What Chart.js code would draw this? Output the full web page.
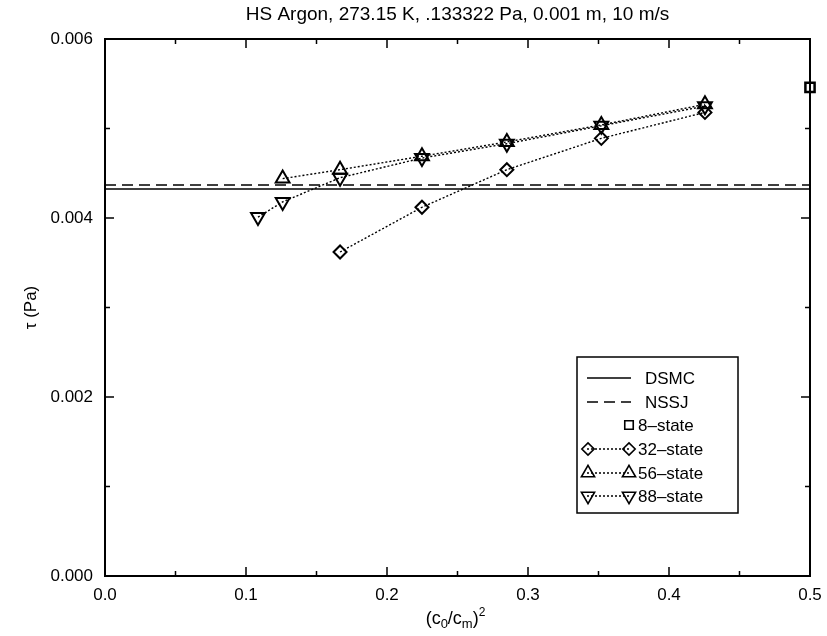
<!DOCTYPE html>
<html>
<head>
<meta charset="utf-8">
<script src="https://cdn.jsdelivr.net/npm/chart.js@4.4.0/dist/chart.umd.min.js"></script>
<style>
  body { margin: 0; background: #fff; }
  canvas { display: block; }
</style>
</head>
<body>
<canvas id="chart" width="827" height="636"></canvas>
<script>
const FONT = '"Liberation Sans", Arial, Helvetica, sans-serif';

// (c0/cm)^2 values and shear stress (Pa)
const x8 = [0.5];
const tau8 = [0.00546];
const x32 = [0.1667, 0.2248, 0.285, 0.352, 0.4255];
const tau32 = [0.00362, 0.00412, 0.00454, 0.00489, 0.00518];
const x56 = [0.126, 0.1667, 0.2248, 0.285, 0.352, 0.4255];
const tau56 = [0.00444, 0.00454, 0.00469, 0.00485, 0.00504, 0.00527];
const x88 = [0.1085, 0.126, 0.1667, 0.2248, 0.285, 0.352, 0.4255];
const tau88 = [0.00401, 0.00418, 0.00445, 0.00467, 0.00483, 0.00503, 0.00525];
const dsmc = 0.004324;
const nssj = 0.004369;

const xTicks = [0, 0.1, 0.2, 0.3, 0.4, 0.5];
const yTicks = [0, 0.002, 0.004, 0.006];

function pts(xs, ys) {
  return xs.map((x, i) => ({ x: x, y: ys[i] }));
}

const clear = 'rgba(0,0,0,0)';

const datasets = [
  {
    label: 'DSMC',
    data: pts([0, 0.5], [dsmc, dsmc]),
    showLine: true, borderColor: '#000', borderWidth: 1.6,
    pointRadius: 0
  },
  {
    label: 'NSSJ',
    data: pts([0, 0.5], [nssj, nssj]),
    showLine: true, borderColor: '#000', borderWidth: 1.6, borderDash: [11, 6],
    pointRadius: 0
  },
  {
    label: '8\u2013state',
    data: pts(x8, tau8),
    showLine: false, pointStyle: 'rect', pointRadius: 6.5,
    pointBorderColor: '#000', pointBackgroundColor: clear, pointBorderWidth: 2.5,
    clip: false
  },
  {
    label: '32\u2013state',
    data: pts(x32, tau32),
    showLine: true, borderColor: '#000', borderWidth: 1.4, borderDash: [2, 2],
    pointStyle: 'rectRot', pointRadius: 6.5,
    pointBorderColor: '#000', pointBackgroundColor: clear, pointBorderWidth: 2
  },
  {
    label: '56\u2013state',
    data: pts(x56, tau56),
    showLine: true, borderColor: '#000', borderWidth: 1.4, borderDash: [2, 2],
    pointStyle: 'triangle', pointRadius: 8,
    pointBorderColor: '#000', pointBackgroundColor: clear, pointBorderWidth: 2
  },
  {
    label: '88\u2013state',
    data: pts(x88, tau88),
    showLine: true, borderColor: '#000', borderWidth: 1.4, borderDash: [2, 2],
    pointStyle: 'triangle', pointRotation: 180, pointRadius: 8,
    pointBorderColor: '#000', pointBackgroundColor: clear, pointBorderWidth: 2
  }
];

// frame, inward ticks, titles and the boxed legend
const decor = {
  id: 'decor',
  afterDraw(chart) {
    const ctx = chart.ctx;
    const a = chart.chartArea;
    const sx = chart.scales.x;
    const sy = chart.scales.y;
    ctx.save();
    ctx.strokeStyle = '#000';
    ctx.lineWidth = 2;
    ctx.strokeRect(a.left, a.top, a.right - a.left, a.bottom - a.top);

    ctx.lineWidth = 1.5;
    ctx.beginPath();
    for (let i = 0; i <= 10; i++) {
      const px = sx.getPixelForValue(i * 0.05);
      const len = i % 2 === 0 ? 9 : 5;
      ctx.moveTo(px, a.bottom); ctx.lineTo(px, a.bottom - len);
      ctx.moveTo(px, a.top); ctx.lineTo(px, a.top + len);
    }
    for (let i = 0; i <= 6; i++) {
      const py = sy.getPixelForValue(i * 0.001);
      const len = i % 2 === 0 ? 9 : 5;
      ctx.moveTo(a.left, py); ctx.lineTo(a.left + len, py);
      ctx.moveTo(a.right, py); ctx.lineTo(a.right - len, py);
    }
    ctx.stroke();

    // title
    ctx.fillStyle = '#000';
    ctx.textAlign = 'center';
    ctx.textBaseline = 'alphabetic';
    ctx.font = '19px ' + FONT;
    ctx.fillText('HS Argon, 273.15 K, .133322 Pa, 0.001 m, 10 m/s', (a.left + a.right) / 2, 20);

    // y title
    ctx.font = '17px ' + FONT;
    ctx.save();
    ctx.translate(36, (a.top + a.bottom) / 2);
    ctx.rotate(-Math.PI / 2);
    ctx.textAlign = 'center';
    ctx.fillText('\u03c4 (Pa)', 0, 0);
    ctx.restore();

    // x title (c0/cm)^2
    const parts = [
      ['(c', 18, 0], ['0', 13, 4], ['/c', 18, 0], ['m', 13, 4], [')', 18, 0], ['2', 12, -8]
    ];
    let w = 0;
    parts.forEach(p => { ctx.font = p[1] + 'px ' + FONT; w += ctx.measureText(p[0]).width; });
    let cx = (a.left + a.right) / 2 - w / 2 - 2;
    ctx.textAlign = 'left';
    parts.forEach(p => {
      ctx.font = p[1] + 'px ' + FONT;
      ctx.fillText(p[0], cx, 624 + p[2]);
      cx += ctx.measureText(p[0]).width;
    });

    // legend
    const bx = 577, by = 357, bw = 161, bh = 156;
    ctx.lineWidth = 1.5;
    ctx.strokeRect(bx, by, bw, bh);
    const rows = [378, 402, 425, 449, 473, 496];
    ctx.font = '17px ' + FONT;
    ctx.textBaseline = 'middle';
    chart.data.datasets.forEach((ds, i) => {
      const y = rows[i];
      ctx.save();
      if (ds.showLine) {
        ctx.strokeStyle = '#000';
        ctx.lineWidth = ds.borderWidth;
        ctx.setLineDash(ds.borderDash || []);
        ctx.beginPath();
        ctx.moveTo(587, y); ctx.lineTo(631, y);
        ctx.stroke();
      }
      ctx.restore();
      let tx = 645;
      if (ds.pointRadius > 0) {
        const opts = {
          pointStyle: ds.pointStyle, radius: ds.pointStyle === 'rect' ? 6 : ds.pointRadius * 0.95,
          rotation: ds.pointRotation || 0, borderWidth: 1.6
        };
        ctx.save();
        ctx.strokeStyle = '#000';
        ctx.fillStyle = clear;
        ctx.lineWidth = 1.6;
        ctx.setLineDash([]);
        if (ds.showLine) Chart.helpers.drawPoint(ctx, opts, 588, y);
        Chart.helpers.drawPoint(ctx, opts, 629, y);
        ctx.restore();
        tx = 638;
      }
      ctx.fillStyle = '#000';
      ctx.textAlign = 'left';
      ctx.fillText(ds.label, tx, y + 1);
    });
    ctx.restore();
  }
};

new Chart(document.getElementById('chart'), {
  type: 'scatter',
  data: { datasets: datasets },
  options: {
    responsive: false,
    animation: false,
    layout: { padding: { left: 0, right: 17, top: 39, bottom: 0 } },
    plugins: {
      legend: { display: false },
      title: { display: false },
      tooltip: { enabled: false }
    },
    scales: {
      x: {
        type: 'linear', min: 0, max: 0.5,
        afterFit(scale) {
          scale.height = 60;
          scale.paddingLeft = 0;
          scale.paddingRight = 0;
        },
        afterBuildTicks(scale) { scale.ticks = xTicks.map(v => ({ value: v })); },
        grid: { display: false, drawTicks: false },
        border: { display: false },
        ticks: {
          color: '#000', padding: 9,
          font: { family: FONT, size: 17 },
          callback: v => v.toFixed(1)
        }
      },
      y: {
        type: 'linear', min: 0, max: 0.006,
        afterFit(scale) {
          scale.width = 105;
          scale.paddingTop = 0;
          scale.paddingBottom = 0;
        },
        afterBuildTicks(scale) { scale.ticks = yTicks.map(v => ({ value: v })); },
        grid: { display: false, drawTicks: false },
        border: { display: false },
        ticks: {
          color: '#000', padding: 12,
          font: { family: FONT, size: 17 },
          callback: v => v.toFixed(3)
        }
      }
    }
  },
  plugins: [decor]
});
</script>
</body>
</html>
